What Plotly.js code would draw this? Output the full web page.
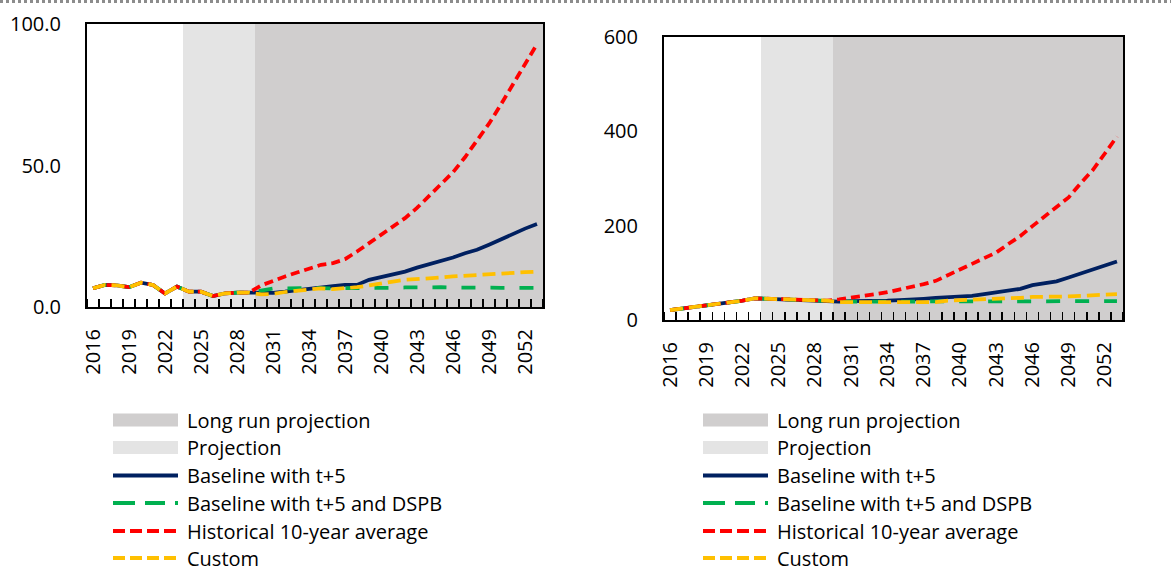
<!DOCTYPE html>
<html>
<head>
<meta charset="utf-8">
<script src="https://cdn.plot.ly/plotly-3.0.1.min.js"></script>
<style>
  html, body { margin: 0; padding: 0; background: #fff; }
  #chart { width: 1171px; height: 576px; }
</style>
</head>
<body>
<div id="chart"></div>
<script>
// ---------- Data ----------
const years = [2016,2017,2018,2019,2020,2021,2022,2023,2024,2025,2026,2027,2028,2029,
  2030,2031,2032,2033,2034,2035,2036,2037,2038,2039,2040,2041,2042,2043,2044,2045,
  2046,2047,2048,2049,2050,2051,2052,2053];
const labelYears = [2016,2019,2022,2025,2028,2031,2034,2037,2040,2043,2046,2049,2052];
const labelText = ["2016","2019","2022","2025","2028","2031","2034","2037","2040","2043","2046","2049","2052"];

const projectionYears = [2024,2025,2026,2027,2028,2029];
const longRunYears = [2030,2031,2032,2033,2034,2035,2036,2037,2038,2039,2040,2041,2042,
  2043,2044,2045,2046,2047,2048,2049,2050,2051,2052,2053];

// Left panel
const projShadeLeft = [100,100,100,100,100,100];
const longShadeLeft = [100,100,100,100,100,100,100,100,100,100,100,100,100,100,100,100,100,100,100,100,100,100,100,100];
const baselineLeft = [6.6,7.8,7.6,7.0,8.6,7.8,4.8,7.2,5.4,5.4,3.9,4.8,5.1,5.1,
  5.0,5.0,5.4,5.9,6.6,7.2,7.4,7.8,7.8,9.6,10.5,11.7,12.5,13.9,15.1,16.1,17.5,19.0,20.2,22.0,24.0,25.8,27.7,29.3];
const dspbLeft = [6.6,7.8,7.6,7.0,8.6,7.8,4.8,7.2,5.4,5.4,3.9,4.8,5.1,5.1,
  5.8,6.5,6.6,6.7,6.8,6.7,6.6,6.6,6.5,6.7,6.8,6.8,6.9,7.0,7.2,7.0,6.9,6.8,6.8,6.8,6.8,6.8,6.8,6.8];
const histAvgLeft = [6.6,7.8,7.6,7.0,8.6,7.8,4.8,7.2,5.4,5.4,3.9,4.8,5.1,5.1,
  7.6,9.3,10.8,12.2,13.7,14.9,15.5,16.9,19.6,22.6,25.3,28.3,31.4,35.0,39.1,43.5,47.6,52.9,58.6,64.8,71.6,78.7,85.8,92.9];
const customLeft = [6.6,7.8,7.6,7.0,8.6,7.8,4.8,7.2,5.4,5.4,3.9,4.8,5.1,5.1,
  4.5,4.6,5.3,5.8,6.3,6.6,6.3,6.6,7.0,7.6,8.4,9.0,9.6,9.8,10.2,10.4,10.8,11.1,11.4,11.6,11.7,12.0,12.3,12.5];

// Right panel
const projShadeRight = [600,600,600,600,600,600];
const longShadeRight = [600,600,600,600,600,600,600,600,600,600,600,600,600,600,600,600,600,600,600,600,600,600,600,600];
const baselineRight = [21,24,27,30,34,37,41,46,45,44,43,42,42,41,
  39,40,40,40,41,42,43,45,47,48,49,51,55,59,62,66,74,78,82,90,99,107,116,124];
const dspbRight = [21,24,27,30,34,37,41,46,45,44,43,42,42,41,
  39,39,39,39,39,39,39,39,39,39,40,40,40,40,40,40,40,40,40,40,40,40,40,40];
const histAvgRight = [21,24,27,30,34,37,41,46,45,44,43,42,42,41,
  44,47,52,55,59,64,71,76,83,95,105,119,129,143,161,178,199,219,239,260,290,318,353,389];
const customRight = [21,24,27,30,34,37,41,46,45,44,43,42,42,41,
  38,38,38,38,38,38,38,38,38,41,42,42,43,45,46,47,49,49,50,50,51,52,54,55];

const seriesNames = ["Long run projection","Projection","Baseline with t+5",
  "Baseline with t+5 and DSPB","Historical 10-year average","Custom"];

// ---------- Styles ----------
const W = 1171, H = 576;
const FONT = "Open Sans, Noto Sans, sans-serif";
const C_LONG = "#d0cece", C_PROJ = "#e4e4e4";
const C_BASE = "#002060", C_DSPB = "#00b050", C_HIST = "#ff0000", C_CUST = "#ffc000";
const LW = 3.75;
const DASH_DSPB = "14px,15px", DASH_HIST = "9px,5px", DASH_CUST = "13px,6px";

function panelTraces(xa, ya, proj, lng, base, dspb, hist, cust) {
  return [
    {type:"bar", x:longRunYears, y:lng, width:1, marker:{color:C_LONG, line:{width:0}}, xaxis:xa, yaxis:ya, hoverinfo:"skip", showlegend:false, name:seriesNames[0]},
    {type:"bar", x:projectionYears, y:proj, width:1, marker:{color:C_PROJ, line:{width:0}}, xaxis:xa, yaxis:ya, hoverinfo:"skip", showlegend:false, name:seriesNames[1]},
    {type:"scatter", mode:"lines", x:years, y:base, line:{color:C_BASE, width:LW}, xaxis:xa, yaxis:ya, showlegend:false, name:seriesNames[2]},
    {type:"scatter", mode:"lines", x:years, y:dspb, line:{color:C_DSPB, width:LW, dash:DASH_DSPB}, xaxis:xa, yaxis:ya, showlegend:false, name:seriesNames[3]},
    {type:"scatter", mode:"lines", x:years, y:hist, line:{color:C_HIST, width:LW, dash:DASH_HIST}, xaxis:xa, yaxis:ya, showlegend:false, name:seriesNames[4]},
    {type:"scatter", mode:"lines", x:years, y:cust, line:{color:C_CUST, width:LW, dash:DASH_CUST}, xaxis:xa, yaxis:ya, showlegend:false, name:seriesNames[5]}
  ];
}

const traces = [].concat(
  panelTraces("x","y", projShadeLeft, longShadeLeft, baselineLeft, dspbLeft, histAvgLeft, customLeft),
  panelTraces("x2","y2", projShadeRight, longShadeRight, baselineRight, dspbRight, histAvgRight, customRight)
);

function xAxis(x0, x1, anchor) {
  return {
    domain:[x0/W, x1/W], anchor:anchor, range:[2015.5, 2053.5],
    tickmode:"array", tickvals:labelYears, ticktext:labelText, tickangle:-90,
    ticks:"", ticklabelstandoff:12,
    showline:true, mirror:true, linecolor:"#000", linewidth:2,
    showgrid:false, zeroline:false, fixedrange:true,
    tickfont:{family:FONT, size:20, color:"#000"},
    minor:{ticks:"inside", tick0:2015.5, dtick:1, ticklen:8, tickwidth:1.5, tickcolor:"#000", showgrid:false}
  };
}
function yAxis(top, bottom, anchor, max, vals, txt) {
  return {
    domain:[1-bottom/H, 1-top/H], anchor:anchor, range:[0, max],
    tickmode:"array", tickvals:vals, ticktext:txt, ticks:"", ticklabelstandoff:20,
    showline:true, mirror:true, linecolor:"#000", linewidth:2,
    showgrid:false, zeroline:false, fixedrange:true,
    tickfont:{family:FONT, size:20, color:"#000"}
  };
}

// ---------- Manual legends ----------
const shapes = [];
const annotations = [];
const rowY = [420, 447.5, 475.5, 503, 531, 558];
function legend(sx0) {
  const sx1 = sx0 + 65, tx = sx0 + 72;
  const styles = [
    {kind:"rect", color:C_LONG},
    {kind:"rect", color:C_PROJ},
    {kind:"line", color:C_BASE, dash:"solid"},
    {kind:"line", color:C_DSPB, dash:"22px,10px,20px,10px,3px,40px"},
    {kind:"line", color:C_HIST, dash:"12px,5px"},
    {kind:"line", color:C_CUST, dash:"12px,5px"}
  ];
  styles.forEach((s, i) => {
    const yc = rowY[i];
    if (s.kind === "rect") {
      shapes.push({type:"rect", xref:"paper", yref:"paper", x0:sx0/W, x1:sx1/W,
        y0:1-(yc+6.5)/H, y1:1-(yc-6.5)/H, fillcolor:s.color, line:{width:0}, layer:"above"});
    } else {
      shapes.push({type:"line", xref:"paper", yref:"paper", x0:sx0/W, x1:sx1/W,
        y0:1-yc/H, y1:1-yc/H, line:{color:s.color, width:4, dash:s.dash}, layer:"above"});
    }
    annotations.push({xref:"paper", yref:"paper", x:tx/W, y:1-yc/H, xanchor:"left", yanchor:"middle",
      text:seriesNames[i], showarrow:false, font:{family:FONT, size:20, color:"#000"}});
  });
}
legend(113);
legend(703);

// top dotted border strip
shapes.push({type:"line", xref:"paper", yref:"paper", x0:0, x1:1, y0:1-1.5/H, y1:1-1.5/H,
  line:{color:"#8c8c8c", width:3, dash:"dot"}, layer:"above"});

const layout = {
  width:W, height:H, margin:{l:0, r:0, t:0, b:0},
  paper_bgcolor:"#fff", plot_bgcolor:"#fff",
  barmode:"overlay", bargap:0, showlegend:false,
  font:{family:FONT, size:20, color:"#000"},
  xaxis: xAxis(87, 543, "y"),
  yaxis: yAxis(24, 307, "x", 100, [0,50,100], ["0.0","50.0","100.0"]),
  xaxis2: xAxis(664, 1123, "y2"),
  yaxis2: yAxis(37, 320, "x2", 600, [0,200,400,600], ["0","200","400","600"]),
  shapes: shapes,
  annotations: annotations
};

Plotly.newPlot("chart", traces, layout, {staticPlot:true, displayModeBar:false});
</script>
</body>
</html>
